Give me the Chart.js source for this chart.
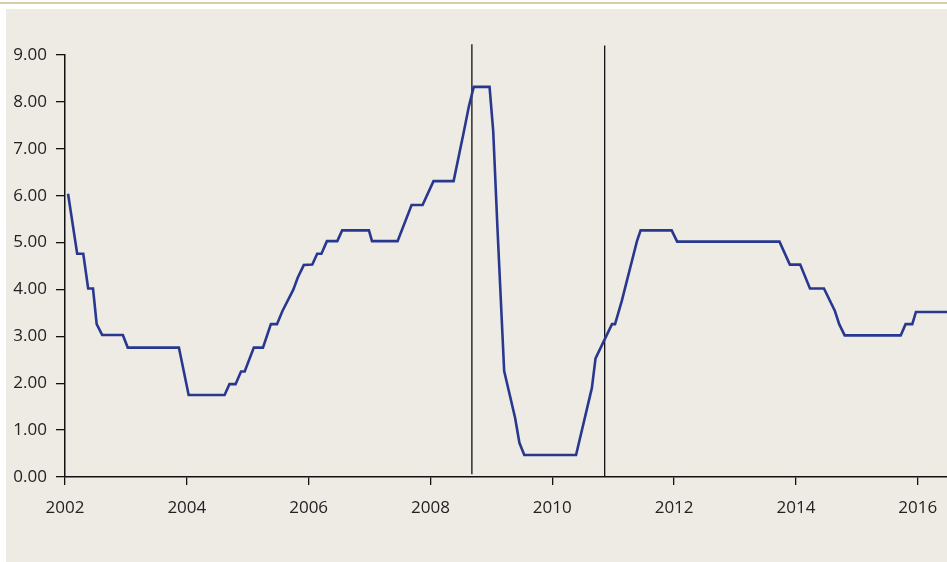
<!DOCTYPE html>
<html>
<head>
<meta charset="utf-8">
<script src="https://cdn.jsdelivr.net/npm/chart.js@4/dist/chart.umd.min.js"></script>
<style>
  body { margin: 0; background: #fff; overflow: hidden; }
  #rule { position: absolute; left: 0; top: 2px; width: 947px; height: 2px; background: #d8cda9; }
  #panel { position: absolute; left: 6px; top: 9px; width: 941px; height: 553px; background: #eeebe5; }
  #wrap { position: absolute; left: 0; top: 0; width: 947px; height: 562px; }
</style>
</head>
<body>
<div id="rule"></div>
<div id="panel"></div>
<div id="wrap"><canvas id="chart"></canvas></div>
<script>
// policy rate (decimal years)
const years = [
  2002.05, 2002.20, 2002.30, 2002.38, 2002.46, 2002.52, 2002.61, 2002.95, 2003.03, 2003.87,
  2004.03, 2004.62, 2004.70, 2004.80, 2004.89, 2004.95, 2005.10, 2005.25, 2005.38, 2005.48,
  2005.57, 2005.75, 2005.82, 2005.92, 2006.06, 2006.14, 2006.21, 2006.30, 2006.47, 2006.55,
  2006.99, 2007.04, 2007.46, 2007.69, 2007.87, 2008.05, 2008.38, 2008.55, 2008.63, 2008.71,
  2008.97, 2009.03, 2009.10, 2009.21, 2009.39, 2009.46, 2009.54, 2010.39, 2010.65, 2010.71,
  2010.98, 2011.03, 2011.14, 2011.39, 2011.45, 2011.96, 2012.05, 2013.73, 2013.90, 2014.07,
  2014.23, 2014.46, 2014.64, 2014.71, 2014.80, 2015.72, 2015.80, 2015.91, 2015.97, 2016.48
];
const rates = [
  6.04, 4.76, 4.76, 4.02, 4.02, 3.26, 3.03, 3.03, 2.76, 2.76,
  1.75, 1.75, 1.98, 1.98, 2.25, 2.25, 2.76, 2.76, 3.26, 3.26,
  3.54, 4.00, 4.25, 4.52, 4.53, 4.76, 4.76, 5.03, 5.03, 5.26,
  5.26, 5.03, 5.03, 5.80, 5.80, 6.31, 6.31, 7.38, 7.90, 8.32,
  8.32, 7.38, 5.30, 2.26, 1.26, 0.73, 0.47, 0.47, 1.90, 2.53,
  3.26, 3.26, 3.75, 5.03, 5.26, 5.26, 5.02, 5.02, 4.53, 4.53,
  4.02, 4.02, 3.54, 3.26, 3.02, 3.02, 3.26, 3.26, 3.52, 3.52
];

// vertical markers
const eventYears = [2008.68, 2010.86];
const eventTops = [9.23, 9.2];
const eventBottoms = [0.06, 0];

const xTicks = [2002, 2004, 2006, 2008, 2010, 2012, 2014, 2016];
const yTicks = [0, 1, 2, 3, 4, 5, 6, 7, 8, 9];

const lineData = years.map((y, i) => ({ x: y, y: rates[i] }));

const datasets = [{
  data: lineData,
  borderColor: "#29388f",
  borderWidth: 2.6,
  pointRadius: 0,
  tension: 0
}];

eventYears.forEach((x, i) => {
  datasets.push({
    data: [{ x: x, y: eventBottoms[i] }, { x: x, y: eventTops[i] }],
    borderColor: "#111",
    borderWidth: 1.3,
    pointRadius: 0,
    clip: false
  });
});

Chart.defaults.font.family = "'Open Sans', sans-serif";
Chart.defaults.color = "#222";

chart = new Chart(document.getElementById("chart"), {
  type: "line",
  data: { datasets: datasets },
  options: {
    responsive: true,
    maintainAspectRatio: false,
    animation: false,
    layout: { padding: { top: 55, right: 0, left: 0, bottom: 0 } },
    plugins: { legend: { display: false }, tooltip: { enabled: false } },
    scales: {
      x: {
        type: "linear",
        min: 2002,
        max: 2016.48,
        afterFit: s => { s.height = 85; s.paddingLeft = 0; s.paddingRight = 0; },
        afterBuildTicks: s => { s.ticks = xTicks.map(v => ({ value: v })); },
        ticks: {
          includeBounds: false,
          font: { size: 17 },
          padding: 13,
          maxRotation: 0,
          callback: v => String(v)
        },
        grid: { drawOnChartArea: false, tickLength: 8, color: "#111", lineWidth: 1.3 },
        border: { color: "#111", width: 1.5 }
      },
      y: {
        min: 0,
        max: 9,
        afterFit: s => { s.width = 65; s.paddingTop = 0; s.paddingBottom = 0; },
        afterBuildTicks: s => { s.ticks = yTicks.map(v => ({ value: v })); },
        ticks: {
          font: { size: 17 },
          padding: 9,
          callback: v => v.toFixed(2)
        },
        grid: { drawOnChartArea: false, tickLength: 9, color: "#111", lineWidth: 1.3 },
        border: { color: "#111", width: 1.5 }
      }
    }
  }
});
</script>
</body>
</html>
